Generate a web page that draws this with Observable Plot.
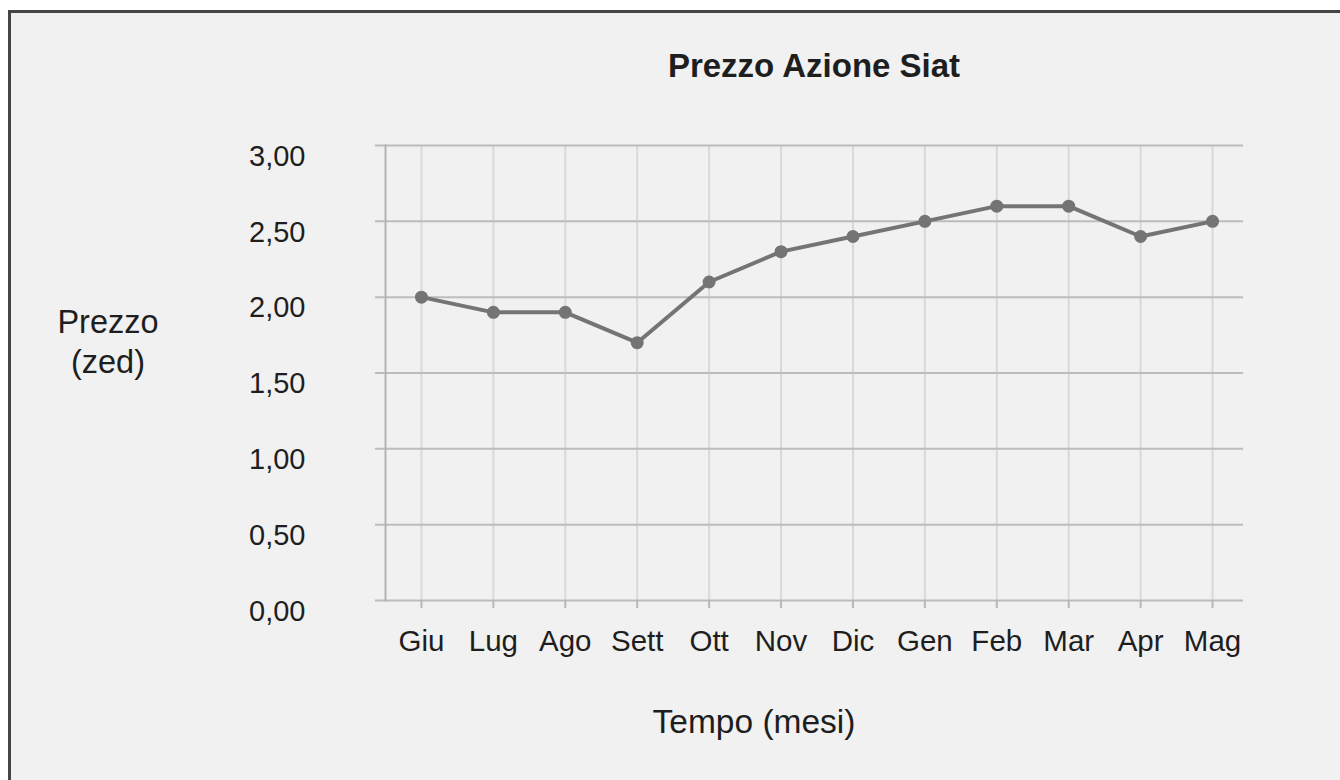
<!DOCTYPE html>
<html>
<head>
<meta charset="utf-8">
<script src="https://cdn.jsdelivr.net/npm/d3@7"></script>
<script src="https://cdn.jsdelivr.net/npm/@observablehq/plot@0.6"></script>
<style>
  html, body { margin: 0; padding: 0; background: #ffffff; width: 1340px; height: 780px; overflow: hidden; }
  #panel { position: absolute; left: 8px; top: 10px; width: 1340px; height: 780px; background: #f1f1f1;
           border-left: 3px solid #454545; border-top: 3px solid #454545; }
  #chart { position: absolute; left: 0; top: 0; }
  .lbl { position: absolute; font-family: "Liberation Sans", Arial, sans-serif; color: #1e1e1e; line-height: 1; white-space: nowrap; transform: translateX(-50%); }
</style>
</head>
<body>
<div id="panel"></div>
<div id="chart"></div>
<div class="lbl" id="title" style="left:814px; top:49px; font-size:33px; font-weight:bold;"></div>
<div class="lbl" id="ylabel" style="left:108px; top:302px; font-size:32.5px; line-height:40px; text-align:center;"></div>
<div class="lbl" id="xlabel" style="left:754px; top:705px; font-size:33.5px;"></div>
<script>
const titleText = "Prezzo Azione Siat";
const yLabelLines = ["Prezzo", "(zed)"];
const xLabelText = "Tempo (mesi)";

const months = ["Giu", "Lug", "Ago", "Sett", "Ott", "Nov", "Dic", "Gen", "Feb", "Mar", "Apr", "Mag"];
const prices = [2.00, 1.90, 1.90, 1.70, 2.10, 2.30, 2.40, 2.50, 2.60, 2.60, 2.40, 2.50];
const yTicks = [0, 0.5, 1, 1.5, 2, 2.5, 3];

document.getElementById("title").textContent = titleText;
document.getElementById("ylabel").innerHTML = yLabelLines.join("<br>");
document.getElementById("xlabel").textContent = xLabelText;

const data = months.map((m, i) => ({month: m, price: prices[i]}));
const fmt = d => d.toFixed(2).replace(".", ",");

const chart = Plot.plot({
  width: 1340,
  height: 780,
  marginLeft: 385,
  marginRight: 92,
  marginTop: 145,
  marginBottom: 180,
  style: {background: "transparent", fontFamily: "'Liberation Sans', Arial, sans-serif", color: "#1e1e1e"},
  x: {type: "point", domain: months, padding: 0.5, round: false, label: null},
  y: {domain: [0, 3], label: null},
  marks: [
    Plot.ruleX(months, {x: d => d, stroke: "#d9d9d9", strokeWidth: 2}),
    Plot.ruleY(yTicks, {y: d => d, stroke: "#bcbcbc", strokeWidth: 2, insetLeft: -10, insetRight: 5}),
    Plot.frame({anchor: "left", stroke: "#b3b3b3", strokeWidth: 2}),
    Plot.axisX({tickSize: 8, tickPadding: 22, fontSize: 29.5, stroke: "#b8b8b8", strokeWidth: 2, color: "#1e1e1e", label: null}),
    Plot.axisY(yTicks, {tickSize: 0, tickPadding: 80, fontSize: 29, dy: 11, tickFormat: fmt, color: "#1e1e1e", label: null}),
    Plot.line(data, {x: "month", y: "price", stroke: "#747474", strokeWidth: 4}),
    Plot.dot(data, {x: "month", y: "price", r: 6.5, fill: "#747474"})
  ]
});
document.getElementById("chart").appendChild(chart);
</script>
</body>
</html>
